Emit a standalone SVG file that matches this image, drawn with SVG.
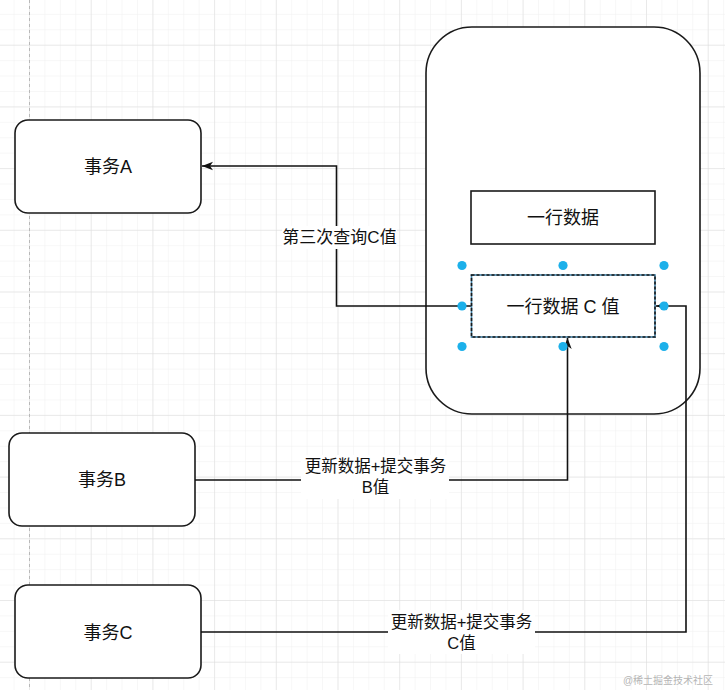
<svg xmlns="http://www.w3.org/2000/svg" width="725" height="690" viewBox="0 0 725 690">
<style>
  .node { fill: #ffffff; stroke: #1a1a1a; stroke-width: 1.6; }
  .label { font-family: "Liberation Sans", "Noto Sans CJK SC", sans-serif; fill: #111111; text-anchor: middle; dominant-baseline: central; }
  .nlabel { font-size: 18px; }
  .elabel { font-size: 17px; }
  .elabel2 { font-size: 16.5px; }
  .edge { fill: none; stroke: #111111; stroke-width: 1.6; }
  .lblbg { fill: #ffffff; }
  .handle { fill: #1cb0ea; }
</style>
<defs>
  <pattern id="minor" patternUnits="userSpaceOnUse" x="29" y="44.7" width="15.425" height="15.425">
    <path d="M 0 0 H 15.425 M 0 0 V 15.425" fill="none" stroke="#efefef" stroke-width="1"/>
  </pattern>
  <pattern id="major" patternUnits="userSpaceOnUse" x="29" y="44.7" width="61.7" height="61.7">
    <path d="M 0 0 H 61.7 M 0 0 V 61.7" fill="none" stroke="#dcdcdc" stroke-width="1"/>
  </pattern>
  <marker id="arrow" markerUnits="userSpaceOnUse" viewBox="0 0 12 10" refX="11" refY="5" markerWidth="12" markerHeight="10" orient="auto">
    <path d="M0,0.8 L11,5 L0,9.2 L3,5 Z" fill="#111111"/>
  </marker>
</defs>

<rect x="0" y="0" width="725" height="690" fill="#ffffff"/>
<rect x="0" y="0" width="725" height="690" fill="url(#minor)"/>
<rect x="0" y="0" width="725" height="690" fill="url(#major)"/>
<line x1="29.5" y1="0" x2="29.5" y2="690" stroke="#b8b8b8" stroke-width="1" stroke-dasharray="3,3"/>

<g id="database">
  <rect x="426" y="27" width="274" height="387" rx="46" ry="46" class="node"/>
</g>

<g id="row1">
  <rect x="471" y="191" width="184" height="53" class="node"/>
  <text x="563" y="218" class="label nlabel">一行数据</text>
</g>

<g id="txA">
  <rect x="15" y="120" width="186" height="93" rx="13" ry="13" class="node"/>
  <text x="108" y="167" class="label nlabel">事务A</text>
</g>

<g id="txB">
  <rect x="9" y="433" width="186" height="93" rx="13" ry="13" class="node"/>
  <text x="102" y="480" class="label nlabel">事务B</text>
</g>

<g id="txC">
  <rect x="15" y="585" width="186" height="93" rx="13" ry="13" class="node"/>
  <text x="108" y="633" class="label nlabel">事务C</text>
</g>

<g id="connectors">
  <path d="M 471 306 H 336.5 V 166 H 202" class="edge" marker-end="url(#arrow)"/>
  <rect x="282" y="226" width="115" height="23" class="lblbg"/>
  <text x="339.5" y="237" class="label elabel">第三次查询C值</text>

  <path d="M 195 480 H 567.5 V 338" class="edge" marker-end="url(#arrow)"/>
  <rect x="301" y="455" width="148" height="44" class="lblbg"/>
  <text class="label elabel2"><tspan x="375.5" y="466">更新数据+提交事务</tspan><tspan x="375.5" y="487">B值</tspan></text>

  <path d="M 201 632 H 686 V 306 H 656" class="edge" marker-end="url(#arrow)"/>
  <rect x="388" y="610" width="147" height="44" class="lblbg"/>
  <text class="label elabel2"><tspan x="461.5" y="621.5">更新数据+提交事务</tspan><tspan x="461.5" y="642.5">C值</tspan></text>
</g>

<g id="row2">
  <rect x="471.5" y="275" width="183.5" height="62" fill="#ffffff" stroke="#3f7fa6" stroke-width="1.6"/>
  <rect x="471.5" y="275" width="183.5" height="62" fill="none" stroke="#1a1a1a" stroke-width="1.6" stroke-dasharray="3,2"/>
  <text x="563" y="307" class="label nlabel">一行数据 C 值</text>
  <circle cx="462" cy="265.5" r="4.6" class="handle"/>
  <circle cx="563" cy="265.5" r="4.6" class="handle"/>
  <circle cx="664" cy="265.5" r="4.6" class="handle"/>
  <circle cx="462" cy="306" r="4.6" class="handle"/>
  <circle cx="664" cy="306" r="4.6" class="handle"/>
  <circle cx="462" cy="346.5" r="4.6" class="handle"/>
  <circle cx="563" cy="346.5" r="4.6" class="handle"/>
  <circle cx="664" cy="346.5" r="4.6" class="handle"/>
</g>

<text x="668" y="680" font-family="Liberation Sans, Noto Sans CJK SC, sans-serif" font-size="10" fill="#b5b5b5" text-anchor="middle" dominant-baseline="central">@稀土掘金技术社区</text>
</svg>
